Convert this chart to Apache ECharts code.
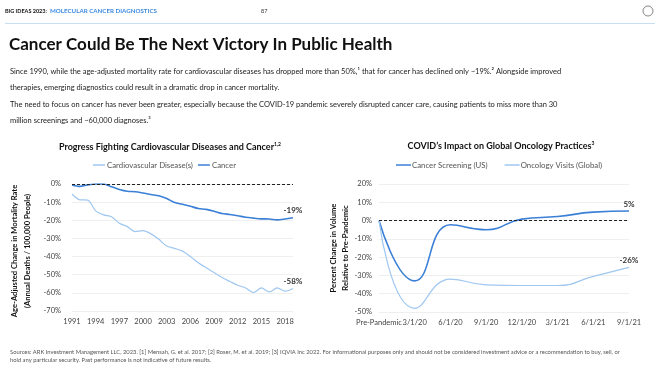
<!DOCTYPE html>
<html><head><meta charset="utf-8">
<script src="https://cdn.jsdelivr.net/npm/echarts@6/dist/echarts.min.js"></script>
<style>html,body{margin:0;padding:0;background:#fff}#c{width:660px;height:371px}</style>
</head><body><div id="c"></div>
<script>
// ---- Left chart data ----
const years = ['1991','1992','1993','1994','1995','1996','1997','1998','1999','2000','2001','2002','2003','2004','2005','2006','2007','2008','2009','2010','2011','2012','2013','2014','2015','2016','2017','2018','2019'];
const cardio = [-5.5,-8.7,-8.9,-14.8,-17,-18,-21.6,-23.5,-26.2,-25.7,-27.5,-30.5,-34.2,-35.5,-37,-40,-43.4,-46.2,-48.8,-51.5,-53.7,-55.8,-57.3,-59.8,-57.3,-59.5,-57.3,-59.1,-57.6];
const cancer = [-0.5,-1.3,-0.5,0,0,-1.5,-3,-4,-4.3,-5,-5.8,-6.5,-8,-10.2,-11.2,-12.3,-13.5,-14,-15,-16.3,-16.8,-17.5,-18.3,-18.8,-19.2,-19.3,-19.8,-19.3,-18.6];
// ---- Right chart data ----
const periods = ['Pre-Pandemic','3/1/20','6/1/20','9/1/20','12/1/20','3/1/21','6/1/21','9/1/21'];
const screening = [0,-33,-2.3,-5,0.8,2.2,4.6,5.2];
const visits = [0,-48,-32,-35.2,-35.5,-35.5,-30.5,-25.6];

const FONT = 'Lato';
const DARK = '#3b80d6', LIGHT = '#9fc7f0';

function withEndLabel(arr){
  return arr.map((v,i)=> i===arr.length-1 ? {value:v,label:{show:true,position:'top',distance:3,formatter:Math.round(v)+'%',fontSize:8,fontWeight:'bold',color:'#333',fontFamily:FONT}} : v);
}
function zeroLine(){
  return {silent:true,symbol:'none',label:{show:false},lineStyle:{color:'#222',type:[3,2],width:1.2},data:[{yAxis:0}]};
}
const axisLbl = {fontSize:7.5,color:'#444',fontFamily:FONT};

const chart = echarts.init(document.getElementById('c'),null,{renderer:'canvas'});
chart.setOption({
  animation:false,
  textStyle:{fontFamily:FONT},
  title:[
    {text:'{a|Progress Fighting Cardiovascular Diseases and Cancer}{s|1,2}',left:165,top:137,textAlign:'center',
     textStyle:{rich:{a:{fontSize:9,fontWeight:'bold',color:'#111',fontFamily:FONT},s:{fontSize:5,fontWeight:'bold',color:'#111',padding:[0,0,6,0],fontFamily:FONT}}}},
    {text:'{a|COVID\u2019s Impact on Global Oncology Practices}{s|3}',left:496,top:136,textAlign:'center',
     textStyle:{rich:{a:{fontSize:9,fontWeight:'bold',color:'#111',fontFamily:FONT},s:{fontSize:5,fontWeight:'bold',color:'#111',padding:[0,0,6,0],fontFamily:FONT}}}}
  ],
  legend:[
    {data:['Cardiovascular Disease(s)','Cancer'],left:88,top:156,icon:'rect',itemWidth:12,itemHeight:1.5,itemGap:5,
     textStyle:{fontSize:7.8,color:'#555',fontFamily:FONT,padding:[0,0,0,-3]}},
    {data:['Cancer Screening (US)','Oncology Visits (Global)'],left:391,top:156,icon:'rect',itemWidth:15,itemHeight:1.5,itemGap:17,
     textStyle:{fontSize:7.8,color:'#555',fontFamily:FONT,padding:[0,0,0,-4]}}
  ],
  grid:[
    {left:72,right:367,top:184,bottom:60},
    {left:379,right:31,top:184,bottom:59}
  ],
  xAxis:[
    {type:'category',gridIndex:0,data:years,boundaryGap:false,axisLine:{show:false},axisTick:{show:false},
     axisLabel:Object.assign({interval:2,margin:7},axisLbl)},
    {type:'category',gridIndex:1,data:periods,boundaryGap:false,axisLine:{show:false},axisTick:{show:false},
     axisLabel:Object.assign({interval:0,margin:7},axisLbl)}
  ],
  yAxis:[
    {type:'value',gridIndex:0,min:-70,max:0,interval:10,axisLabel:Object.assign({formatter:'{value}%',margin:11},axisLbl),
     splitLine:{lineStyle:{color:'#efefef'}}},
    {type:'value',gridIndex:1,min:-50,max:20,interval:10,axisLabel:Object.assign({formatter:'{value}%',margin:7},axisLbl),
     splitLine:{lineStyle:{color:'#efefef'}}}
  ],
  series:[
    {name:'Cardiovascular Disease(s)',type:'line',xAxisIndex:0,yAxisIndex:0,data:withEndLabel(cardio),symbol:'circle',symbolSize:0,showSymbol:true,smooth:0.3,
     lineStyle:{color:LIGHT,width:1.2},itemStyle:{color:LIGHT}},
    {name:'Cancer',type:'line',xAxisIndex:0,yAxisIndex:0,data:withEndLabel(cancer),symbol:'circle',symbolSize:0,showSymbol:true,smooth:0.3,
     lineStyle:{color:DARK,width:1.6},itemStyle:{color:DARK},markLine:zeroLine(),z:3},
    {name:'Cancer Screening (US)',type:'line',xAxisIndex:1,yAxisIndex:1,data:withEndLabel(screening),symbol:'circle',symbolSize:0,showSymbol:true,smooth:0.5,
     lineStyle:{color:DARK,width:1.6},itemStyle:{color:DARK},markLine:zeroLine(),z:3},
    {name:'Oncology Visits (Global)',type:'line',xAxisIndex:1,yAxisIndex:1,data:withEndLabel(visits),symbol:'circle',symbolSize:0,showSymbol:true,smooth:0.5,
     lineStyle:{color:LIGHT,width:1.2},itemStyle:{color:LIGHT}}
  ],
  graphic:[
    {type:'text',left:5,top:8,style:{text:'BIG IDEAS 2023:',fontSize:5.5,fontWeight:'bold',fill:'#111',fontFamily:FONT}},
    {type:'text',left:50,top:8,style:{text:'MOLECULAR CANCER DIAGNOSTICS',fontSize:6.2,fontWeight:'bold',fill:'#3b8ae0',fontFamily:FONT}},
    {type:'text',left:261,top:8,style:{text:'87',fontSize:5.5,fill:'#333',fontFamily:FONT}},
    {type:'circle',shape:{cx:648,cy:11,r:5},style:{fill:'none',stroke:'#666',lineWidth:0.8}},
    {type:'line',shape:{x1:5,y1:23.5,x2:655,y2:23.5},style:{stroke:'#c9dcf3',lineWidth:1.2}},
    {type:'text',left:9,top:36,style:{text:'Cancer Could Be The Next Victory In Public Health',fontSize:17,fontWeight:'bold',fill:'#111',fontFamily:FONT}},
    {type:'text',left:10,top:68,style:{text:'Since 1990, while the age-adjusted mortality rate for cardiovascular diseases has dropped more than 50%,\u00b9 that for cancer has declined only ~19%.\u00b2 Alongside improved',fontSize:7.5,fill:'#222',fontFamily:FONT}},
    {type:'text',left:10,top:84,style:{text:'therapies, emerging diagnostics could result in a dramatic drop in cancer mortality.',fontSize:7.5,fill:'#222',fontFamily:FONT}},
    {type:'text',left:10,top:101,style:{text:'The need to focus on cancer has never been greater, especially because the COVID-19 pandemic severely disrupted cancer care, causing patients to miss more than 30',fontSize:7.5,fill:'#222',fontFamily:FONT}},
    {type:'text',left:10,top:117,style:{text:'million screenings and ~60,000 diagnoses.\u00b3',fontSize:7.5,fill:'#222',fontFamily:FONT}},
    {type:'text',x:15,y:251,rotation:Math.PI/2,style:{text:'Age-Adjusted Change in Mortality Rate',fontSize:7.6,fontWeight:'bold',fill:'#111',align:'center',verticalAlign:'middle',fontFamily:FONT}},
    {type:'text',x:27.5,y:251,rotation:Math.PI/2,style:{text:'(Annual Deaths / 100,000 People)',fontSize:7.6,fontWeight:'bold',fill:'#111',align:'center',verticalAlign:'middle',fontFamily:FONT}},
    {type:'text',x:334,y:248,rotation:Math.PI/2,style:{text:'Percent Change in Volume',fontSize:7.6,fontWeight:'bold',fill:'#111',align:'center',verticalAlign:'middle',fontFamily:FONT}},
    {type:'text',x:346,y:248,rotation:Math.PI/2,style:{text:'Relative to Pre-Pandemic',fontSize:7.6,fontWeight:'bold',fill:'#111',align:'center',verticalAlign:'middle',fontFamily:FONT}},
    {type:'text',left:10,top:349,style:{text:'Sources: ARK Investment Management LLC, 2023. [1] Mensah, G. et al. 2017; [2] Roser, M. et al. 2019; [3] IQVIA Inc 2022. For informational purposes only and should not be considered investment advice or a recommendation to buy, sell, or',fontSize:5.8,fill:'#555',fontFamily:FONT}},
    {type:'text',left:10,top:357,style:{text:'hold any particular security. Past performance is not indicative of future results.',fontSize:5.8,fill:'#555',fontFamily:FONT}}
  ]
});
</script></body></html>
